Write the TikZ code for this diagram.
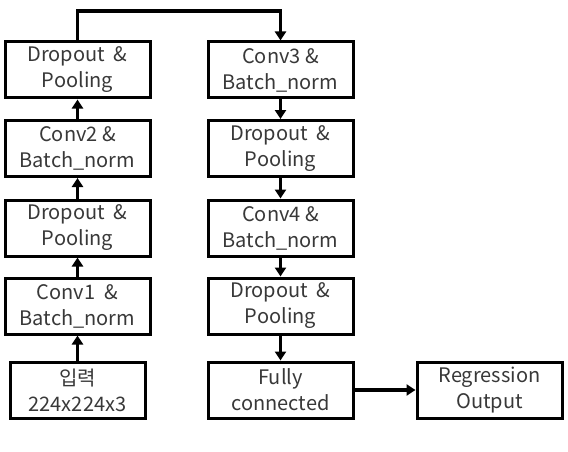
\documentclass[tikz,border=0pt]{standalone}
\usepackage{fontspec}
\setmainfont{Noto Sans CJK KR}
\usetikzlibrary{arrows.meta}
\begin{document}
\begin{tikzpicture}[x=1pt,y=-1pt,
  blk/.style={draw=black,line width=3pt,minimum width=145pt,minimum height=56pt,
    inner sep=0pt,align=center,font=\fontsize{20}{26}\selectfont,text=black!78},
  conn/.style={line width=3.3pt,-{Triangle[length=9pt,width=11pt]}}]
\useasboundingbox (0,0) rectangle (568,452);
% left column
\node[blk,minimum width=135pt] (in) at (77.5,390) {입력\\224x224x3};
\node[blk] (c1) at (77.5,306) {Conv1\ \ \&\\Batch\_norm};
\node[blk] (d1) at (77.5,228) {Dropout\ \ \&\\Pooling};
\node[blk] (c2) at (77.5,148.5) {Conv2\ \&\\Batch\_norm};
\node[blk] (d2) at (77.5,70) {Dropout\ \ \&\\Pooling};
% right column
\node[blk] (c3) at (280.5,70) {Conv3\ \&\\Batch\_norm};
\node[blk] (d3) at (280.5,148.5) {Dropout\ \ \&\\Pooling};
\node[blk] (c4) at (280.5,228) {Conv4\ \&\\Batch\_norm};
\node[blk] (d4) at (280.5,306) {Dropout\ \ \&\\Pooling};
\node[blk] (fc) at (280.5,390) {Fully\\connected};
\node[blk] (out) at (489.5,390) {Regression\\Output};
% connectors
\draw[conn] (in) -- (c1);
\draw[conn] (c1) -- (d1);
\draw[conn] (d1) -- (c2);
\draw[conn] (c2) -- (d2);
\draw[conn] (d2.north) |- (180,11) -| (c3.north);
\draw[conn] (c3) -- (d3);
\draw[conn] (d3) -- (c4);
\draw[conn] (c4) -- (d4);
\draw[conn] (d4) -- (fc);
\draw[conn] (fc) -- (out);
\end{tikzpicture}
\end{document}
